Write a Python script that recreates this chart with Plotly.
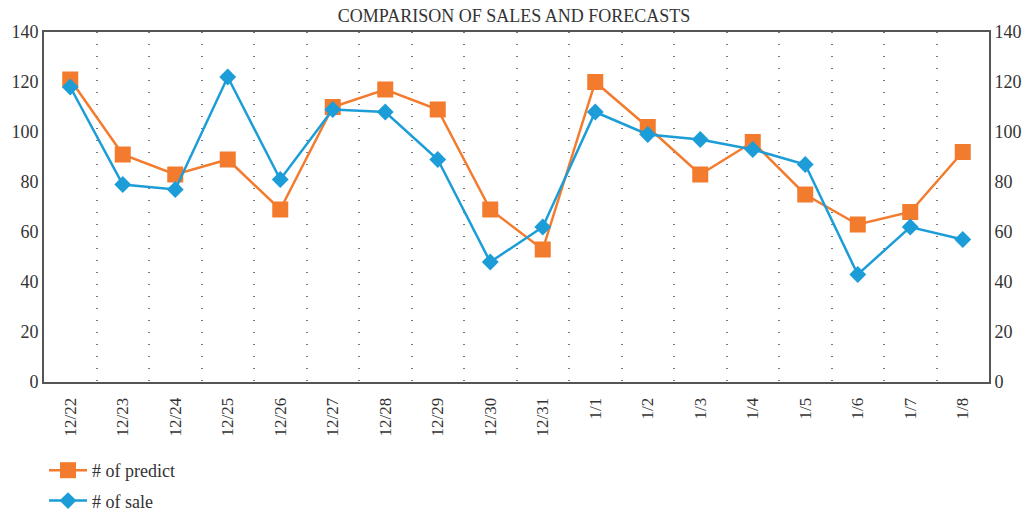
import plotly.graph_objects as go

categories = ["12/22", "12/23", "12/24", "12/25", "12/26", "12/27", "12/28", "12/29", "12/30",
              "12/31", "1/1", "1/2", "1/3", "1/4", "1/5", "1/6", "1/7", "1/8"]
predict = [121, 91, 83, 89, 69, 110, 117, 109, 69, 53, 120, 102, 83, 96, 75, 63, 68, 92]
sale = [118, 79, 77, 122, 81, 109, 108, 89, 48, 62, 108, 99, 97, 93, 87, 43, 62, 57]
y_ticks = [0, 20, 40, 60, 80, 100, 120, 140]

ORANGE = "#F37B2D"
BLUE = "#1C9DD8"
FONT = "Liberation Serif"
TXT = "#333333"

fig = go.Figure()
fig.add_trace(go.Scatter(
    x=categories, y=predict, name="# of predict", mode="lines+markers",
    line=dict(color=ORANGE, width=2.5),
    marker=dict(symbol="square", size=16, color=ORANGE),
    legendgroup="a",
))
fig.add_trace(go.Scatter(
    x=categories, y=sale, name="# of sale", mode="lines+markers",
    line=dict(color=BLUE, width=2.5),
    marker=dict(symbol="diamond", size=13, color=BLUE),
    legendgroup="b",
))
# invisible trace to activate right axis
fig.add_trace(go.Scatter(
    x=categories, y=sale, yaxis="y2", mode="lines", line=dict(width=0),
    opacity=0, showlegend=False, hoverinfo="skip",
))

fig.update_layout(
    width=1028, height=513,
    margin=dict(l=44, r=39, t=32, b=131, autoexpand=False),
    paper_bgcolor="white", plot_bgcolor="white",
    font=dict(family=FONT, size=18, color=TXT),
    title=dict(text="COMPARISON OF SALES AND FORECASTS", x=0.5, xanchor="center",
               y=0.969, yanchor="middle", font=dict(family=FONT, size=18, color=TXT)),
    xaxis=dict(
        type="category", range=[-0.5, len(categories) - 0.5], tickson="boundaries",
        showgrid=True, gridcolor="#777777", griddash="1px,11px", gridwidth=1.5,
        showline=True, linecolor="#555555", linewidth=2, automargin=False,
        mirror=True, ticks="", tickangle=-90, tickfont=dict(size=17), ticklabelstandoff=7,
    ),
    yaxis=dict(
        range=[0, 140], tickvals=y_ticks, showgrid=False, zeroline=False, automargin=False,
        showline=True, linecolor="#555555", linewidth=2, ticks="", tickfont=dict(size=18),
    ),
    yaxis2=dict(
        range=[0, 140], tickvals=y_ticks, overlaying="y", side="right", showgrid=False,
        zeroline=False, showline=True, linecolor="#555555", linewidth=2, ticks="",
        tickfont=dict(size=18), automargin=False,
    ),
    legend=dict(
        orientation="v", x=0.0, xanchor="left", y=-0.2, yanchor="top",
        font=dict(family=FONT, size=18, color=TXT), traceorder="grouped",
        tracegroupgap=4, bgcolor="rgba(0,0,0,0)", itemwidth=38,
    ),
    showlegend=True,
)

fig.write_html("out.html", config={"displayModeBar": False},
               post_script="document.body.style.margin='0';")
